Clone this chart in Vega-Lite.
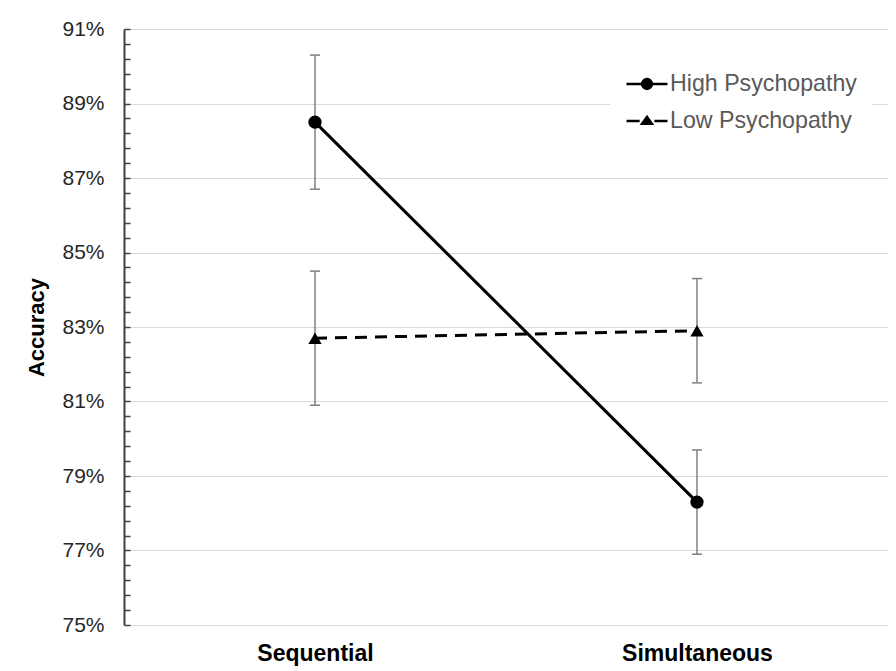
{
  "$schema": "https://vega.github.io/schema/vega-lite/v6.json",
  "width": 764,
  "height": 596,
  "autosize": {"type": "none"},
  "padding": {"left": 124, "top": 29, "right": 8, "bottom": 46},
  "background": "white",
  "config": {
    "font": "Liberation Sans",
    "view": {"stroke": null}
  },
  "data": {
    "values": [
      {"cond": "Sequential", "group": "High Psychopathy", "acc": 0.885, "lo": 0.867, "hi": 0.903},
      {"cond": "Simultaneous", "group": "High Psychopathy", "acc": 0.783, "lo": 0.769, "hi": 0.797},
      {"cond": "Sequential", "group": "Low Psychopathy", "acc": 0.827, "lo": 0.809, "hi": 0.845},
      {"cond": "Simultaneous", "group": "Low Psychopathy", "acc": 0.829, "lo": 0.815, "hi": 0.843}
    ]
  },
  "encoding": {
    "x": {
      "field": "cond",
      "type": "nominal",
      "sort": ["Sequential", "Simultaneous"],
      "scale": {"type": "point", "padding": 0.5},
      "axis": {
        "title": null,
        "domain": false,
        "ticks": false,
        "grid": false,
        "labelAngle": 0,
        "labelFontSize": 23,
        "labelFontWeight": "bold",
        "labelColor": "black",
        "labelPadding": 17
      }
    }
  },
  "layer": [
    {
      "mark": {"type": "rule", "color": "#808080", "strokeWidth": 1.5},
      "encoding": {
        "y": {
          "field": "lo",
          "type": "quantitative",
          "scale": {"domain": [0.75, 0.91], "nice": false, "zero": false},
          "axis": {
            "title": "Accuracy",
            "titleFontSize": 22,
            "titleFontWeight": "bold",
            "titleColor": "black",
            "titleX": -88,
            "titleY": 298,
            "titleAngle": -90,
            "titleAlign": "center",
            "titleBaseline": "middle",
            "values": [0.75,0.754,0.758,0.762,0.766,0.77,0.774,0.778,0.782,0.786,0.79,0.794,0.798,0.802,0.806,0.81,0.814,0.818,0.822,0.826,0.83,0.834,0.838,0.842,0.846,0.85,0.854,0.858,0.862,0.866,0.87,0.874,0.878,0.882,0.886,0.89,0.894,0.898,0.902,0.906,0.91],
            "format": ".0%",
            "labelExpr": "round(datum.value*1000) % 20 == 10 ? datum.label : ''",
            "labelOverlap": false,
            "labelBound": false,
            "labelFlush": false,
            "labelFontSize": 21,
            "labelColor": "#262626",
            "labelPadding": 26,
            "tickSize": -6,
            "tickColor": "#404040",
            "tickWidth": 1.5,
            "domainColor": "#404040",
            "domainWidth": 2,
            "grid": true,
            "gridColor": "#d9d9d9",
            "gridWidth": 1,
            "gridOpacity": {"condition": {"test": "round(datum.value*1000) % 20 == 10", "value": 1}, "value": 0}
          }
        },
        "y2": {"field": "hi"}
      }
    },
    {
      "mark": {"type": "tick", "color": "#808080", "thickness": 1.5, "size": 10, "opacity": 1},
      "encoding": {
        "y": {
          "field": "lo",
          "type": "quantitative",
          "axis": {
            "title": "Accuracy",
            "titleFontSize": 22,
            "titleFontWeight": "bold",
            "titleColor": "black",
            "titleX": -88,
            "titleY": 298,
            "titleAngle": -90,
            "titleAlign": "center",
            "titleBaseline": "middle",
            "values": [0.75,0.754,0.758,0.762,0.766,0.77,0.774,0.778,0.782,0.786,0.79,0.794,0.798,0.802,0.806,0.81,0.814,0.818,0.822,0.826,0.83,0.834,0.838,0.842,0.846,0.85,0.854,0.858,0.862,0.866,0.87,0.874,0.878,0.882,0.886,0.89,0.894,0.898,0.902,0.906,0.91],
            "format": ".0%",
            "labelExpr": "round(datum.value*1000) % 20 == 10 ? datum.label : ''",
            "labelOverlap": false,
            "labelBound": false,
            "labelFlush": false,
            "labelFontSize": 21,
            "labelColor": "#262626",
            "labelPadding": 26,
            "tickSize": -6,
            "tickColor": "#404040",
            "tickWidth": 1.5,
            "domainColor": "#404040",
            "domainWidth": 2,
            "grid": true,
            "gridColor": "#d9d9d9",
            "gridWidth": 1,
            "gridOpacity": {"condition": {"test": "round(datum.value*1000) % 20 == 10", "value": 1}, "value": 0}
          }
        }
      }
    },
    {
      "mark": {"type": "tick", "color": "#808080", "thickness": 1.5, "size": 10, "opacity": 1},
      "encoding": {
        "y": {
          "field": "hi",
          "type": "quantitative",
          "axis": {
            "title": "Accuracy",
            "titleFontSize": 22,
            "titleFontWeight": "bold",
            "titleColor": "black",
            "titleX": -88,
            "titleY": 298,
            "titleAngle": -90,
            "titleAlign": "center",
            "titleBaseline": "middle",
            "values": [0.75,0.754,0.758,0.762,0.766,0.77,0.774,0.778,0.782,0.786,0.79,0.794,0.798,0.802,0.806,0.81,0.814,0.818,0.822,0.826,0.83,0.834,0.838,0.842,0.846,0.85,0.854,0.858,0.862,0.866,0.87,0.874,0.878,0.882,0.886,0.89,0.894,0.898,0.902,0.906,0.91],
            "format": ".0%",
            "labelExpr": "round(datum.value*1000) % 20 == 10 ? datum.label : ''",
            "labelOverlap": false,
            "labelBound": false,
            "labelFlush": false,
            "labelFontSize": 21,
            "labelColor": "#262626",
            "labelPadding": 26,
            "tickSize": -6,
            "tickColor": "#404040",
            "tickWidth": 1.5,
            "domainColor": "#404040",
            "domainWidth": 2,
            "grid": true,
            "gridColor": "#d9d9d9",
            "gridWidth": 1,
            "gridOpacity": {"condition": {"test": "round(datum.value*1000) % 20 == 10", "value": 1}, "value": 0}
          }
        }
      }
    },
    {
      "transform": [{"filter": "datum.group == 'High Psychopathy'"}],
      "mark": {"type": "line", "color": "black", "strokeWidth": 3},
      "encoding": {
        "y": {
          "field": "acc",
          "type": "quantitative",
          "axis": {
            "title": "Accuracy",
            "titleFontSize": 22,
            "titleFontWeight": "bold",
            "titleColor": "black",
            "titleX": -88,
            "titleY": 298,
            "titleAngle": -90,
            "titleAlign": "center",
            "titleBaseline": "middle",
            "values": [0.75,0.754,0.758,0.762,0.766,0.77,0.774,0.778,0.782,0.786,0.79,0.794,0.798,0.802,0.806,0.81,0.814,0.818,0.822,0.826,0.83,0.834,0.838,0.842,0.846,0.85,0.854,0.858,0.862,0.866,0.87,0.874,0.878,0.882,0.886,0.89,0.894,0.898,0.902,0.906,0.91],
            "format": ".0%",
            "labelExpr": "round(datum.value*1000) % 20 == 10 ? datum.label : ''",
            "labelOverlap": false,
            "labelBound": false,
            "labelFlush": false,
            "labelFontSize": 21,
            "labelColor": "#262626",
            "labelPadding": 26,
            "tickSize": -6,
            "tickColor": "#404040",
            "tickWidth": 1.5,
            "domainColor": "#404040",
            "domainWidth": 2,
            "grid": true,
            "gridColor": "#d9d9d9",
            "gridWidth": 1,
            "gridOpacity": {"condition": {"test": "round(datum.value*1000) % 20 == 10", "value": 1}, "value": 0}
          }
        }
      }
    },
    {
      "transform": [{"filter": "datum.group == 'Low Psychopathy'"}],
      "mark": {"type": "line", "color": "black", "strokeWidth": 3, "strokeDash": [12, 8]},
      "encoding": {
        "y": {
          "field": "acc",
          "type": "quantitative",
          "axis": {
            "title": "Accuracy",
            "titleFontSize": 22,
            "titleFontWeight": "bold",
            "titleColor": "black",
            "titleX": -88,
            "titleY": 298,
            "titleAngle": -90,
            "titleAlign": "center",
            "titleBaseline": "middle",
            "values": [0.75,0.754,0.758,0.762,0.766,0.77,0.774,0.778,0.782,0.786,0.79,0.794,0.798,0.802,0.806,0.81,0.814,0.818,0.822,0.826,0.83,0.834,0.838,0.842,0.846,0.85,0.854,0.858,0.862,0.866,0.87,0.874,0.878,0.882,0.886,0.89,0.894,0.898,0.902,0.906,0.91],
            "format": ".0%",
            "labelExpr": "round(datum.value*1000) % 20 == 10 ? datum.label : ''",
            "labelOverlap": false,
            "labelBound": false,
            "labelFlush": false,
            "labelFontSize": 21,
            "labelColor": "#262626",
            "labelPadding": 26,
            "tickSize": -6,
            "tickColor": "#404040",
            "tickWidth": 1.5,
            "domainColor": "#404040",
            "domainWidth": 2,
            "grid": true,
            "gridColor": "#d9d9d9",
            "gridWidth": 1,
            "gridOpacity": {"condition": {"test": "round(datum.value*1000) % 20 == 10", "value": 1}, "value": 0}
          }
        }
      }
    },
    {
      "transform": [{"filter": "datum.group == 'High Psychopathy'"}],
      "mark": {"type": "point", "filled": true, "color": "black", "size": 175, "opacity": 1, "shape": "circle"},
      "encoding": {
        "y": {
          "field": "acc",
          "type": "quantitative",
          "axis": {
            "title": "Accuracy",
            "titleFontSize": 22,
            "titleFontWeight": "bold",
            "titleColor": "black",
            "titleX": -88,
            "titleY": 298,
            "titleAngle": -90,
            "titleAlign": "center",
            "titleBaseline": "middle",
            "values": [0.75,0.754,0.758,0.762,0.766,0.77,0.774,0.778,0.782,0.786,0.79,0.794,0.798,0.802,0.806,0.81,0.814,0.818,0.822,0.826,0.83,0.834,0.838,0.842,0.846,0.85,0.854,0.858,0.862,0.866,0.87,0.874,0.878,0.882,0.886,0.89,0.894,0.898,0.902,0.906,0.91],
            "format": ".0%",
            "labelExpr": "round(datum.value*1000) % 20 == 10 ? datum.label : ''",
            "labelOverlap": false,
            "labelBound": false,
            "labelFlush": false,
            "labelFontSize": 21,
            "labelColor": "#262626",
            "labelPadding": 26,
            "tickSize": -6,
            "tickColor": "#404040",
            "tickWidth": 1.5,
            "domainColor": "#404040",
            "domainWidth": 2,
            "grid": true,
            "gridColor": "#d9d9d9",
            "gridWidth": 1,
            "gridOpacity": {"condition": {"test": "round(datum.value*1000) % 20 == 10", "value": 1}, "value": 0}
          }
        }
      }
    },
    {
      "transform": [{"filter": "datum.group == 'Low Psychopathy'"}],
      "mark": {"type": "point", "filled": true, "color": "black", "size": 175, "opacity": 1, "shape": "triangle-up"},
      "encoding": {
        "y": {
          "field": "acc",
          "type": "quantitative",
          "axis": {
            "title": "Accuracy",
            "titleFontSize": 22,
            "titleFontWeight": "bold",
            "titleColor": "black",
            "titleX": -88,
            "titleY": 298,
            "titleAngle": -90,
            "titleAlign": "center",
            "titleBaseline": "middle",
            "values": [0.75,0.754,0.758,0.762,0.766,0.77,0.774,0.778,0.782,0.786,0.79,0.794,0.798,0.802,0.806,0.81,0.814,0.818,0.822,0.826,0.83,0.834,0.838,0.842,0.846,0.85,0.854,0.858,0.862,0.866,0.87,0.874,0.878,0.882,0.886,0.89,0.894,0.898,0.902,0.906,0.91],
            "format": ".0%",
            "labelExpr": "round(datum.value*1000) % 20 == 10 ? datum.label : ''",
            "labelOverlap": false,
            "labelBound": false,
            "labelFlush": false,
            "labelFontSize": 21,
            "labelColor": "#262626",
            "labelPadding": 26,
            "tickSize": -6,
            "tickColor": "#404040",
            "tickWidth": 1.5,
            "domainColor": "#404040",
            "domainWidth": 2,
            "grid": true,
            "gridColor": "#d9d9d9",
            "gridWidth": 1,
            "gridOpacity": {"condition": {"test": "round(datum.value*1000) % 20 == 10", "value": 1}, "value": 0}
          }
        }
      }
    },
    {
      "mark": {"type": "point", "filled": true, "fill": "black", "stroke": "black", "strokeWidth": 2.5, "size": 175, "opacity": 0},
      "encoding": {
        "y": {
          "field": "acc",
          "type": "quantitative",
          "axis": {
            "title": "Accuracy",
            "titleFontSize": 22,
            "titleFontWeight": "bold",
            "titleColor": "black",
            "titleX": -88,
            "titleY": 298,
            "titleAngle": -90,
            "titleAlign": "center",
            "titleBaseline": "middle",
            "values": [0.75,0.754,0.758,0.762,0.766,0.77,0.774,0.778,0.782,0.786,0.79,0.794,0.798,0.802,0.806,0.81,0.814,0.818,0.822,0.826,0.83,0.834,0.838,0.842,0.846,0.85,0.854,0.858,0.862,0.866,0.87,0.874,0.878,0.882,0.886,0.89,0.894,0.898,0.902,0.906,0.91],
            "format": ".0%",
            "labelExpr": "round(datum.value*1000) % 20 == 10 ? datum.label : ''",
            "labelOverlap": false,
            "labelBound": false,
            "labelFlush": false,
            "labelFontSize": 21,
            "labelColor": "#262626",
            "labelPadding": 26,
            "tickSize": -6,
            "tickColor": "#404040",
            "tickWidth": 1.5,
            "domainColor": "#404040",
            "domainWidth": 2,
            "grid": true,
            "gridColor": "#d9d9d9",
            "gridWidth": 1,
            "gridOpacity": {"condition": {"test": "round(datum.value*1000) % 20 == 10", "value": 1}, "value": 0}
          }
        },
        "shape": {
          "field": "group",
          "type": "nominal",
          "scale": {
            "domain": ["High Psychopathy", "Low Psychopathy"],
            "range": [
              "M-1,0H1M0.24,0A0.24,0.24,0,1,1,-0.24,0A0.24,0.24,0,1,1,0.24,0Z",
              "M-1,0H-0.36M0.36,0H1M0,-0.2L0.24,0.14L-0.24,0.14Z"
            ]
          },
          "legend": {
            "title": null,
            "orient": "none",
            "legendX": 486,
            "legendY": 18,
            "padding": 15,
            "fillColor": "white",
            "strokeColor": null,
            "symbolSize": 1681,
            "symbolOpacity": 1,
            "symbolStrokeWidth": 2.5,
            "labelFontSize": 23.2,
            "labelColor": "#595959",
            "labelOffset": 1,
            "labelLimit": 400,
            "rowPadding": 3
          }
        }
      }
    }
  ]
}
